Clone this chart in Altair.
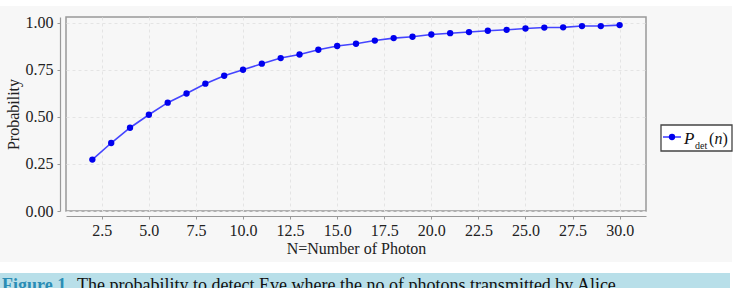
import altair as alt
import pandas as pd

n_values = list(range(2, 31))
p_det = [0.273, 0.361, 0.442, 0.511, 0.575, 0.624, 0.676, 0.718, 0.750, 0.782,
         0.812, 0.831, 0.856, 0.876, 0.888, 0.905, 0.918, 0.925, 0.937, 0.944,
         0.950, 0.957, 0.962, 0.969, 0.974, 0.975, 0.982, 0.982, 0.987]
x_ticks = [2.5, 5.0, 7.5, 10.0, 12.5, 15.0, 17.5, 20.0, 22.5, 25.0, 27.5, 30.0]
y_ticks = [0.0, 0.25, 0.5, 0.75, 1.0]

df = pd.DataFrame({"n": n_values, "p": p_det})
decor = pd.DataFrame({"d": [0]})

FONT = "Liberation Serif"
BG = "#f7f7f7"
W, H = 580, 194

xenc = alt.X("n:Q", scale=alt.Scale(domain=[0.6, 31.4], nice=False, zero=False),
             axis=alt.Axis(values=x_ticks, format=".1f", offset=5, tickSize=3,
                           domainColor="#999", tickColor="#999", domainWidth=1.2,
                           labelFont=FONT, labelFontSize=16, labelColor="#222",
                           labelPadding=3, labelFlush=False,
                           title="N=Number of Photon", titleFont=FONT,
                           titleFontSize=16, titleFontWeight="normal",
                           titleColor="#222", titlePadding=2,
                           grid=True, gridDash=[3, 3], gridColor="#e4e4e4"))
yenc = alt.Y("p:Q", scale=alt.Scale(domain=[0, 1.03], nice=False),
             axis=alt.Axis(values=y_ticks, format=".2f", offset=6, tickSize=3,
                           domainColor="#999", tickColor="#999", domainWidth=1.2,
                           labelFont=FONT, labelFontSize=16, labelColor="#222",
                           labelPadding=4, labelFlush=False,
                           title="Probability", titleFont=FONT,
                           titleFontSize=16, titleFontWeight="normal",
                           titleColor="#222", titlePadding=4,
                           grid=True, gridDash=[3, 3], gridColor="#e4e4e4"))

base = alt.Chart(df)
line = base.mark_line(color="#4444ff", strokeWidth=1.6).encode(x=xenc, y=yenc)
pts = base.mark_point(filled=True, color="#0000ee", size=40, opacity=1).encode(x=xenc, y=yenc)

def rect(x, x2, y, y2, color, stroke=None, sw=0):
    kw = dict(color=color)
    if stroke:
        kw.update(stroke=stroke, strokeWidth=sw)
    return alt.Chart(decor).mark_rect(**kw).encode(
        x=alt.value(x), x2=alt.value(x2), y=alt.value(y), y2=alt.value(y2))

def text(t, x, y, size, color="#111", style="normal", weight="normal", align="left"):
    return alt.Chart(decor).mark_text(text=t, font=FONT, fontSize=size, color=color,
                                      fontStyle=style, fontWeight=weight, align=align,
                                      baseline="alphabetic").encode(
        x=alt.value(x), y=alt.value(y))

# surrounding strips (outside plot area, relative to plot origin 66,17)
top_strip = rect(-66, 671, -17, -11, "white")
right_strip = rect(666, 671, -17, 271, "white")
bottom_strip = rect(-66, 671, 245, 271, "white")
caption_band = rect(-66, 664, 256, 271, "#b8dfe9")
cap1 = text("Figure 1.", -64, 274, 18, color="#2b8db5", weight="bold")
cap2 = text("The probability to detect Eve where the no of photons transmitted by Alice", 11, 274, 18)

# legend
leg_box = rect(595, 666, 108, 134, "white", stroke="#444", sw=1.3)
leg_line = alt.Chart(decor).mark_rule(color="#4444ff", strokeWidth=1.6).encode(
    x=alt.value(597), x2=alt.value(615), y=alt.value(120))
leg_pt = alt.Chart(decor).mark_point(filled=True, color="#0000ee", size=40, opacity=1).encode(
    x=alt.value(606), y=alt.value(120))
leg_P = text("P", 618, 127, 17, style="italic")
leg_det = text("det", 629, 132, 10)
leg_n1 = text("(", 643, 127, 16)
leg_n2 = text("n", 648.5, 127, 16, style="italic")
leg_n3 = text(")", 656.5, 127, 16)

chart = alt.layer(
    top_strip, right_strip, bottom_strip, caption_band, cap1, cap2,
    line, pts,
    leg_box, leg_line, leg_pt, leg_P, leg_det, leg_n1, leg_n2, leg_n3,
).properties(
    width=W, height=H,
    autosize=alt.AutoSizeParams(type="none"),
    padding={"left": 66, "top": 17, "right": 91, "bottom": 77},
    background=BG,
).configure_view(stroke="#999", strokeWidth=1.5, fill=BG)

chart.save("out.html", embed_options={"renderer": "svg", "actions": False})
